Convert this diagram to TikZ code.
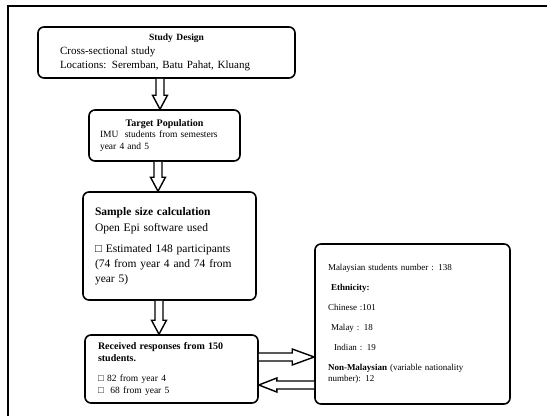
\documentclass[tikz,border=0pt]{standalone}
\usepackage{fontspec}
\setmainfont{Liberation Serif}
\usetikzlibrary{calc}

\tikzset{
  stage/.style={draw, rounded corners=6pt, line width=1.6pt, fill=white, inner sep=0pt, align=left},
  blockarrow/.style={draw, fill=white, line width=1.4pt, line join=miter}
}

% hollow arrow pointing down, at x=#1, from node #2 to node #3
\newcommand{\downblock}[3]{%
  \draw[blockarrow] ($(#1,0 |- #2.south)+(-4,0)$) -- ($(#1,0 |- #3.north)+(-4,-14)$) -- ++(-3.5,0)
    -- (#1,0 |- #3.north) -- ($(#1,0 |- #3.north)+(7.5,-14)$) -- ++(-3.5,0) -- ($(#1,0 |- #2.south)+(4,0)$);}

\begin{document}
\begin{tikzpicture}[x=1pt, y=-1pt]
\useasboundingbox (0,0) rectangle (547,416);
\draw[line width=2pt] (547,5.5) -- (7.5,5.5) -- (7.5,416);

\node[stage, minimum width=257pt, minimum height=51pt, text width=213pt, font=\fontsize{11}{14}\selectfont] (design) at (166.5,52.5)
  {{\centering\fontsize{9.5}{12}\selectfont\hspace*{20pt}\textbf{Study Design}\par}Cross-sectional study\\Locations: Seremban, Batu Pahat, Kluang};
\node[stage, minimum width=151pt, minimum height=51pt, text width=129pt, font=\fontsize{9.5}{11.5}\selectfont] (target) at (164.5,135.5)
  {{\centering\fontsize{10}{12}\selectfont\textbf{Target Population}\par}IMU\ \ students from semesters\\year 4 and 5};
\node[stage, minimum width=173pt, minimum height=108pt, text width=149pt, font=\fontsize{11.5}{15}\selectfont] (sample) at (169.5,246)
  {\textbf{Sample size calculation}\\[1pt]Open Epi software used\\[6pt]□ Estimated 148 participants\\(74 from year 4 and 74 from\\year 5)};
\node[stage, minimum width=173pt, minimum height=68pt, text width=147pt, font=\fontsize{10}{12}\selectfont] (received) at (171.5,369)
  {\textbf{Received responses from 150}\\\textbf{students.}\\[8pt]{\fontsize{9.5}{12}\selectfont □ 82 from year 4\\□\ \ 68 from year 5}};
\node[stage, minimum width=195pt, minimum height=160pt, text width=169pt, font=\fontsize{9}{11}\selectfont] (origin) at (412.5,324)
  {Malaysian students number : 138\\[9pt]\ \textbf{Ethnicity:}\\[9pt]Chinese :101\\[9pt]\ Malay : 18\\[9pt]\ \ Indian : 19\\[9pt]\textbf{Non-Malaysian} (variable nationality\\number): 12};

\downblock{160}{design}{target}
\downblock{158}{target}{sample}
\downblock{159}{sample}{received}

\draw[blockarrow] ($(received.east |- 0,357)+(0,-4)$) -- ($(origin.west |- 0,357)+(-22,-4)$) -- ++(0,-4)
  -- (origin.west |- 0,357) -- ($(origin.west |- 0,357)+(-22,8)$) -- ++(0,-4) -- ($(received.east |- 0,357)+(0,4)$);
\draw[blockarrow] ($(origin.west |- 0,385)+(0,-4)$) -- ($(received.east |- 0,385)+(18,-4)$) -- ++(0,-3)
  -- (received.east |- 0,385) -- ($(received.east |- 0,385)+(18,7)$) -- ++(0,-3) -- ($(origin.west |- 0,385)+(0,4)$);
\end{tikzpicture}
\end{document}
